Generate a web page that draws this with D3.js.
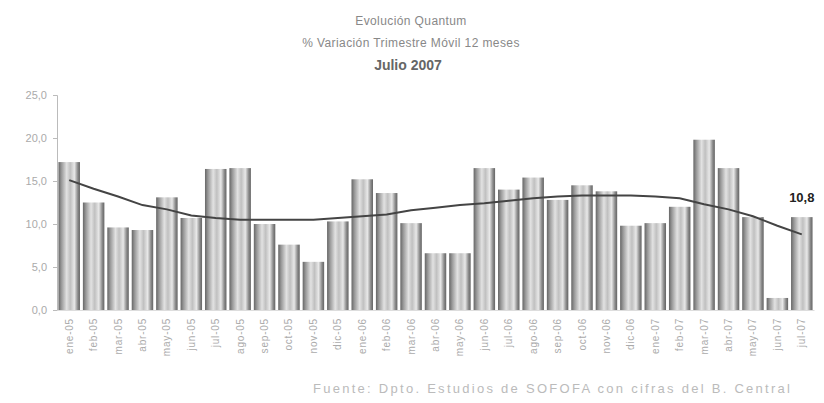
<!DOCTYPE html>
<html>
<head>
<meta charset="utf-8">
<script src="https://cdn.jsdelivr.net/npm/d3@7/dist/d3.min.js"></script>
<style>
  html, body { margin: 0; padding: 0; background: #fff; }
  svg { display: block; }
</style>
</head>
<body>
<svg id="chart" width="824" height="403"></svg>
<script>
// Months, Jan 2005 – Jul 2007
const months = [
  "ene-05","feb-05","mar-05","abr-05","may-05","jun-05","jul-05","ago-05","sep-05","oct-05","nov-05","dic-05",
  "ene-06","feb-06","mar-06","abr-06","may-06","jun-06","jul-06","ago-06","sep-06","oct-06","nov-06","dic-06",
  "ene-07","feb-07","mar-07","abr-07","may-07","jun-07","jul-07"
];
// % variation, moving quarter vs. 12 months earlier
const variacion = [
  17.2, 12.5, 9.6, 9.3, 13.1, 10.7, 16.4, 16.5, 10.0, 7.6, 5.6, 10.3,
  15.2, 13.6, 10.1, 6.6, 6.6, 16.5, 14.0, 15.4, 12.8, 14.5, 13.8, 9.8,
  10.1, 12.0, 19.8, 16.5, 10.8, 1.4, 10.8
];
// Trend line
const tendencia = [
  15.1, 14.1, 13.2, 12.2, 11.7, 11.0, 10.7, 10.5, 10.5, 10.5, 10.5, 10.7,
  10.9, 11.1, 11.6, 11.9, 12.2, 12.4, 12.7, 13.0, 13.2, 13.3, 13.3, 13.3,
  13.2, 13.0, 12.3, 11.7, 10.9, 9.8, 8.8
];
const yTicks = [0, 5, 10, 15, 20, 25];
const lastLabel = "10,8";

const svg = d3.select("#chart");
const margin = { left: 57, right: 10, top: 95, bottom: 93 };
const W = 824, H = 403;

const x = d3.scaleBand().domain(months).range([margin.left, W - margin.right]).paddingInner(0.12).paddingOuter(0.06);
const y = d3.scaleLinear().domain([0, 25]).range([H - margin.bottom, margin.top]);
const fmt = v => d3.format(".1f")(v).replace(".", ",");

// Cylinder-like shading for the bars
const defs = svg.append("defs");
const grad = defs.append("linearGradient").attr("id", "barGrad").attr("x1", "0").attr("x2", "1").attr("y1", "0").attr("y2", "0");
[[0, "#666"], [0.14, "#999"], [0.38, "#e2e2e2"], [0.55, "#c0c0c0"], [0.74, "#e8e8e8"], [0.9, "#8a8a8a"], [1, "#646464"]]
  .forEach(([o, c]) => grad.append("stop").attr("offset", o).attr("stop-color", c));

const font = "'Liberation Sans', Arial, sans-serif";

// Titles
const titles = svg.append("g").attr("font-family", font).attr("text-anchor", "middle");
titles.append("text").attr("x", 411).attr("y", 25).attr("font-size", 12).attr("fill", "#888")
  .attr("letter-spacing", 0.4).text("Evolución Quantum");
titles.append("text").attr("x", 411).attr("y", 47).attr("font-size", 12).attr("fill", "#888")
  .attr("letter-spacing", 0.4).text("% Variación Trimestre Móvil 12 meses");
titles.append("text").attr("x", 408).attr("y", 70).attr("font-size", 14).attr("font-weight", "bold").attr("fill", "#666")
  .text("Julio 2007");

// Bars
svg.append("g").selectAll("rect").data(variacion).join("rect")
  .attr("x", (d, i) => x(months[i]))
  .attr("width", x.bandwidth())
  .attr("y", d => y(d))
  .attr("height", d => y(0) - y(d))
  .attr("fill", "url(#barGrad)");

// Trend line
const line = d3.line().x((d, i) => x(months[i]) + x.bandwidth() / 2).y(d => y(d));
svg.append("path").datum(tendencia).attr("d", line)
  .attr("fill", "none").attr("stroke", "#444").attr("stroke-width", 2);

// Y axis
const yAxis = svg.append("g").attr("transform", `translate(${margin.left},0)`)
  .call(d3.axisLeft(y).tickValues(yTicks).tickFormat(fmt).tickSize(4).tickPadding(6));
yAxis.select(".domain").attr("stroke", "#bbb");
yAxis.selectAll(".tick line").attr("stroke", "#bbb");
yAxis.selectAll("text").attr("font-family", font).attr("font-size", 11).attr("fill", "#aaa");

// X axis
const xAxis = svg.append("g").attr("transform", `translate(0,${y(0)})`)
  .call(d3.axisBottom(x).tickSize(0).tickPadding(0));
xAxis.select(".domain").attr("stroke", "#ddd");
xAxis.selectAll("text")
  .attr("font-family", font).attr("font-size", 10).attr("fill", "#aaa").attr("letter-spacing", 0.8)
  .attr("text-anchor", "end").attr("dy", "0.35em")
  .attr("transform", "translate(0,8) rotate(-90)");

// Value label on the last month
const lastIdx = months.length - 1;
svg.append("text")
  .attr("x", x(months[lastIdx]) + x.bandwidth() / 2)
  .attr("y", y(variacion[lastIdx]) - 15)
  .attr("text-anchor", "middle").attr("font-family", font).attr("font-size", 13).attr("font-weight", "bold")
  .attr("fill", "#222").text(lastLabel);

// Source
svg.append("text").attr("x", 313).attr("y", 393)
  .attr("font-family", font).attr("font-size", 13).attr("fill", "#bbb")
  .attr("textLength", 477).attr("lengthAdjust", "spacing")
  .text("Fuente: Dpto. Estudios de SOFOFA con cifras del B. Central");
</script>
</body>
</html>
